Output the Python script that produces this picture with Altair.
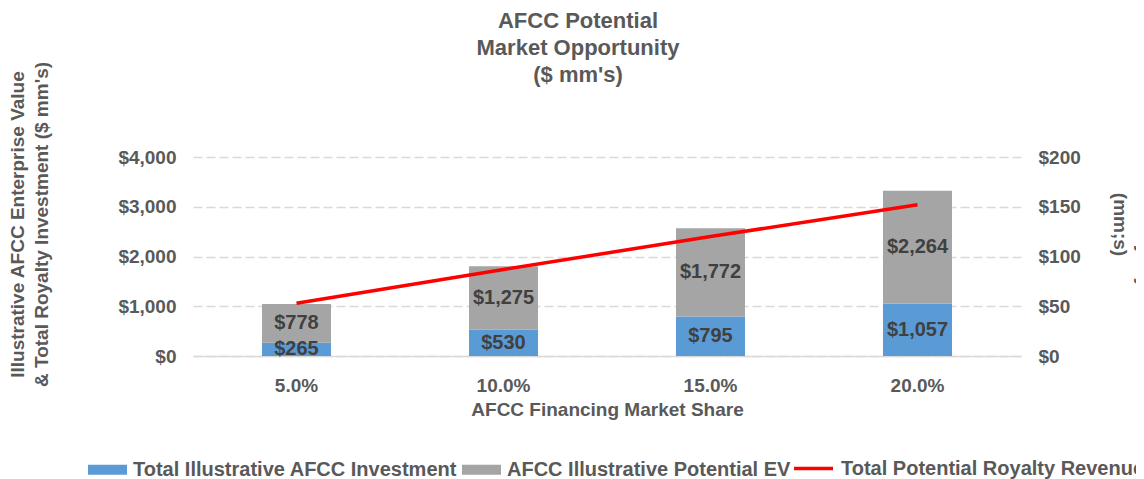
import altair as alt
import pandas as pd

# ---- data ----
shares = ["5.0%", "10.0%", "15.0%", "20.0%"]
investment = [265, 530, 795, 1057]
potential_ev = [778, 1275, 1772, 2264]
royalty = [53, 87, 120, 152]

bar_series = ["Total Illustrative AFCC Investment", "AFCC Illustrative Potential EV"]
line_series = "Total Potential Royalty Revenue"

bars_df = pd.DataFrame({
    "share": shares * 2,
    "series": [bar_series[0]] * len(shares) + [bar_series[1]] * len(shares),
    "order": [0] * len(shares) + [1] * len(shares),
    "value": investment + potential_ev,
})
line_df = pd.DataFrame({
    "share": shares,
    "lseries": [line_series] * len(shares),
    "royalty": royalty,
})

FONT = "Liberation Sans"
TXT = "#595959"
LBL = "#404040"
BLUE = "#5B9BD5"
GRAY = "#A5A5A5"
RED = "#FF0000"
GRID = "#D9D9D9"

x_enc = alt.X(
    "share:N",
    sort=shares,
    scale=alt.Scale(paddingInner=0, paddingOuter=0),
    axis=alt.Axis(
        title="AFCC Financing Market Share",
        labelAngle=0,
        ticks=False,
        labelPadding=20,
        labelFont=FONT, labelFontSize=19, labelFontWeight="bold", labelColor=TXT,
        titleFont=FONT, titleFontSize=19, titleFontWeight="bold", titleColor=TXT,
        titleY=44, titleBaseline="top",
        domainColor=GRID, domainWidth=1.5,
    ),
)

base = (
    alt.Chart(bars_df)
    .transform_stack(
        stack="value", groupby=["share"], as_=["v0", "v1"],
        sort=[alt.SortField("order", "ascending")],
    )
    .transform_calculate(mid="(datum.v0 + datum.v1) / 2")
)

left_axis = alt.Axis(
    values=[0, 1000, 2000, 3000, 4000],
    format="$,.0f",
    labelPadding=17,
    labelFont=FONT, labelFontSize=19, labelFontWeight="bold", labelColor=TXT,
    title=["Illustrative AFCC Enterprise Value", "& Total Royalty Investment ($ mm's)"],
    titleFont=FONT, titleFontSize=19, titleFontWeight="bold", titleColor=TXT,
    titleAngle=270, titleX=-185, titleY=67, titleAlign="center", titleBaseline="top",
    titleLineHeight=24,
    grid=True, gridDash=[9, 4], gridColor=GRID, gridWidth=1.5,
    domain=False, ticks=False,
)

bar = base.mark_bar(size=69).encode(
    x=x_enc,
    y=alt.Y("v0:Q", scale=alt.Scale(domain=[0, 4000], nice=False), axis=left_axis),
    y2="v1:Q",
    fill=alt.Fill(
        "series:N",
        scale=alt.Scale(domain=bar_series, range=[BLUE, GRAY]),
        legend=alt.Legend(
            title=None, orient="none", legendX=-105, legendY=293,
            direction="horizontal",
            symbolType="M-1,-0.256H1V0.256H-1Z", symbolSize=1521,
            symbolStrokeWidth=0, labelOffset=6, columnPadding=4,
            labelFont=FONT, labelFontSize=20, labelFontWeight="bold",
            labelColor=TXT, labelLimit=1000,
        ),
    ),
)

labels = base.mark_text(
    font=FONT, fontSize=20, fontWeight="bold", color=LBL, baseline="middle"
).encode(
    x=x_enc,
    y=alt.Y("mid:Q"),
    text=alt.Text("value:Q", format="$,.0f"),
)

right_axis = alt.Axis(
    orient="right",
    values=[0, 50, 100, 150, 200],
    format="$,.0f",
    labelPadding=17,
    labelFont=FONT, labelFontSize=19, labelFontWeight="bold", labelColor=TXT,
    title=["AFCC Potential Royalty Revenue", "(mm;s)"],
    titleFont=FONT, titleFontSize=19, titleFontWeight="bold", titleColor=TXT,
    titleAngle=90, titleX=131, titleY=67, titleAlign="center", titleBaseline="top",
    titleLineHeight=24,
    grid=False, domain=False, ticks=False,
)

line = alt.Chart(line_df).mark_line(strokeWidth=3.5).encode(
    x=x_enc,
    y=alt.Y("royalty:Q", scale=alt.Scale(domain=[0, 200], nice=False), axis=right_axis),
    stroke=alt.Stroke(
        "lseries:N",
        scale=alt.Scale(domain=[line_series], range=[RED]),
        legend=alt.Legend(
            title=None, orient="none", legendX=599, legendY=290,
            direction="horizontal",
            symbolType="stroke", symbolSize=1521, symbolStrokeWidth=3.5,
            labelOffset=6,
            labelFont=FONT, labelFontSize=20, labelFontWeight="bold",
            labelColor=TXT, labelLimit=1000,
        ),
    ),
)

chart = (
    alt.layer(alt.layer(bar, labels), line)
    .resolve_scale(y="independent", fill="independent", stroke="independent")
    .properties(
        width=828,
        height=199,
        padding={"left": 185, "top": 149, "right": 115, "bottom": 123},
        autosize=alt.AutoSizeParams(type="none", contains="content"),
        title=alt.TitleParams(
            ["AFCC Potential", "Market Opportunity", "($ mm's)"],
            font=FONT, fontSize=22, fontWeight="bold", color=TXT,
            lineHeight=27, anchor="middle", frame="group", dx=-29, offset=-26,
        ),
        background="white",
    )
    .configure_view(stroke=None)
)

chart.save("out.html", embed_options={"renderer": "svg", "actions": False})
